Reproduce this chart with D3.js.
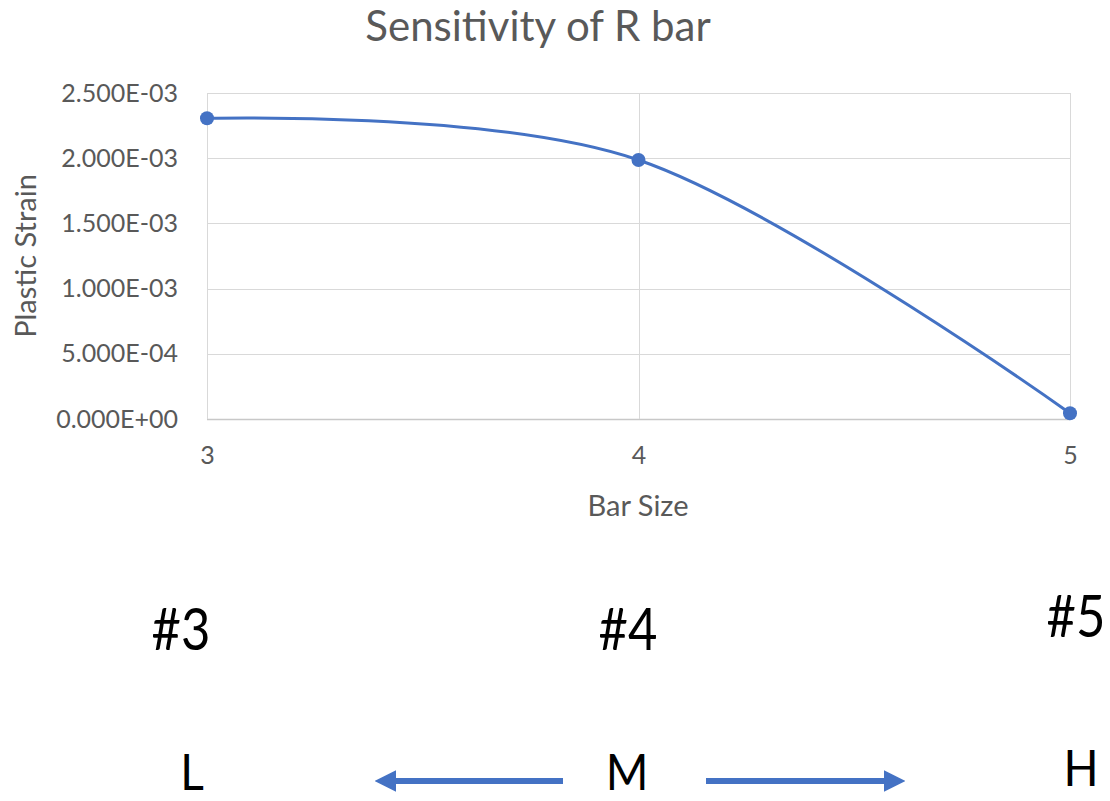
<!DOCTYPE html>
<html>
<head>
<meta charset="utf-8">
<script src="https://cdn.jsdelivr.net/npm/d3@7"></script>
<style>
  html, body { margin: 0; padding: 0; background: #ffffff; }
  svg { display: block; }
</style>
</head>
<body>
<svg id="chart" width="1110" height="801"></svg>
<script>
// ---- data ----
const barSizes = [3, 4, 5];
const plasticStrain = [0.002306, 0.001986, 0.000044];
const yTickValues = [0, 0.0005, 0.001, 0.0015, 0.002, 0.0025];
const xTickValues = [3, 4, 5];
const sizeLabels = ["#3", "#4", "#5"];
const levelLabels = ["L", "M", "H"];
const titleText = "Sensitivity of R bar";
const xAxisTitle = "Bar Size";
const yAxisTitle = "Plastic Strain";

// ---- layout ----
const W = 1110, H = 801;
const plot = { left: 207, right: 1070, top: 93, bottom: 419 };
const lineColor = "#4472C4";
const gridColor = "#d9d9d9";
const textColor = "#595959";
const axisFont = "Lato, 'Open Sans', sans-serif";
const bigFont = "Lato, 'Open Sans', sans-serif";

const svg = d3.select("#chart");

const x = d3.scaleLinear().domain([3, 5]).range([plot.left, plot.right]);
const y = d3.scaleLinear().domain([0, 0.0025]).range([plot.bottom, plot.top]);

function sciFmt(v) {
  const [m, e] = v.toExponential(3).split("e");
  const sign = e[0] === "-" ? "-" : "+";
  const digits = e.replace(/[+-]/, "").padStart(2, "0");
  return m + "E" + sign + digits;
}

// gridlines horizontal
svg.append("g")
  .selectAll("line")
  .data(yTickValues)
  .join("line")
  .attr("x1", plot.left).attr("x2", plot.right)
  .attr("y1", d => Math.round(y(d)) + 0.5).attr("y2", d => Math.round(y(d)) + 0.5)
  .attr("stroke", d => d === 0 ? "#c8c8c8" : gridColor)
  .attr("stroke-width", d => d === 0 ? 1.5 : 1);

// gridlines vertical
svg.append("g")
  .selectAll("line")
  .data(xTickValues)
  .join("line")
  .attr("x1", d => Math.round(x(d)) + 0.5).attr("x2", d => Math.round(x(d)) + 0.5)
  .attr("y1", plot.top).attr("y2", plot.bottom)
  .attr("stroke", gridColor)
  .attr("stroke-width", 1);

// y axis labels
const yAxis = d3.axisLeft(y).tickValues(yTickValues).tickFormat(sciFmt).tickSize(0).tickPadding(29);
const gy = svg.append("g").attr("transform", `translate(${plot.left},0)`).call(yAxis);
gy.select(".domain").remove();
gy.selectAll("text")
  .attr("fill", textColor)
  .style("font-family", axisFont)
  .style("font-size", "25px");

// x axis labels
const xAxis = d3.axisBottom(x).tickValues(xTickValues).tickFormat(d3.format("d")).tickSize(0).tickPadding(27);
const gx = svg.append("g").attr("transform", `translate(0,${plot.bottom})`).call(xAxis);
gx.select(".domain").remove();
gx.selectAll("text")
  .attr("fill", textColor)
  .style("font-family", axisFont)
  .style("font-size", "25px");

// title
svg.append("text")
  .attr("x", 538).attr("y", 41)
  .attr("text-anchor", "middle")
  .attr("fill", textColor)
  .style("font-family", axisFont)
  .style("font-size", "42px")
  .text(titleText);

// axis titles
svg.append("text")
  .attr("x", 638).attr("y", 516)
  .attr("text-anchor", "middle")
  .attr("fill", textColor)
  .style("font-family", axisFont)
  .style("font-size", "29px")
  .text(xAxisTitle);

svg.append("text")
  .attr("transform", `translate(36,${256}) rotate(-90)`)
  .attr("text-anchor", "middle")
  .attr("fill", textColor)
  .style("font-family", axisFont)
  .style("font-size", "29px")
  .text(yAxisTitle);

// line
const pts = barSizes.map((b, i) => ({ b, v: plasticStrain[i] }));
const line = d3.line()
  .x(d => x(d.b))
  .y(d => y(d.v))
  .curve(d3.curveCardinal.tension(0));

svg.append("path")
  .datum(pts)
  .attr("d", line)
  .attr("fill", "none")
  .attr("stroke", lineColor)
  .attr("stroke-width", 3)
  .attr("stroke-linecap", "round");

svg.append("g")
  .selectAll("circle")
  .data(pts)
  .join("circle")
  .attr("cx", d => x(d.b))
  .attr("cy", d => y(d.v))
  .attr("r", 7)
  .attr("fill", lineColor);

// lower annotations
const sizeLabelPos = [[181, 650], [628, 650], [1076, 637]];
svg.append("g")
  .selectAll("text")
  .data(sizeLabels)
  .join("text")
  .attr("transform", (d, i) => `translate(${sizeLabelPos[i][0]},${sizeLabelPos[i][1]}) scale(0.86,1)`)
  .attr("text-anchor", "middle")
  .attr("fill", "#000")
  .style("font-family", bigFont)
  .style("font-size", "59px")
  .text(d => d);

const levelPos = [[192, 790], [627, 790], [1081, 786]];
svg.append("g")
  .selectAll("text")
  .data(levelLabels)
  .join("text")
  .attr("transform", (d, i) => `translate(${levelPos[i][0]},${levelPos[i][1]}) scale(0.92,1)`)
  .attr("text-anchor", "middle")
  .attr("fill", "#000")
  .style("font-family", bigFont)
  .style("font-size", "50px")
  .text(d => d);

// arrows
const defs = svg.append("defs");
defs.append("marker")
  .attr("id", "arrowhead")
  .attr("viewBox", "0 0 10 10")
  .attr("refX", 2).attr("refY", 5)
  .attr("markerWidth", 3.6).attr("markerHeight", 3.6)
  .attr("markerUnits", "strokeWidth")
  .attr("orient", "auto")
  .append("path")
  .attr("d", "M0,0 L10,5 L0,10 Z")
  .attr("fill", lineColor);

const arrows = [[563, 392], [706, 888]];
svg.append("g")
  .selectAll("line")
  .data(arrows)
  .join("line")
  .attr("x1", d => d[0]).attr("x2", d => d[1])
  .attr("y1", 781).attr("y2", 781)
  .attr("stroke", lineColor)
  .attr("stroke-width", 6)
  .attr("marker-end", "url(#arrowhead)");
</script>
</body>
</html>
